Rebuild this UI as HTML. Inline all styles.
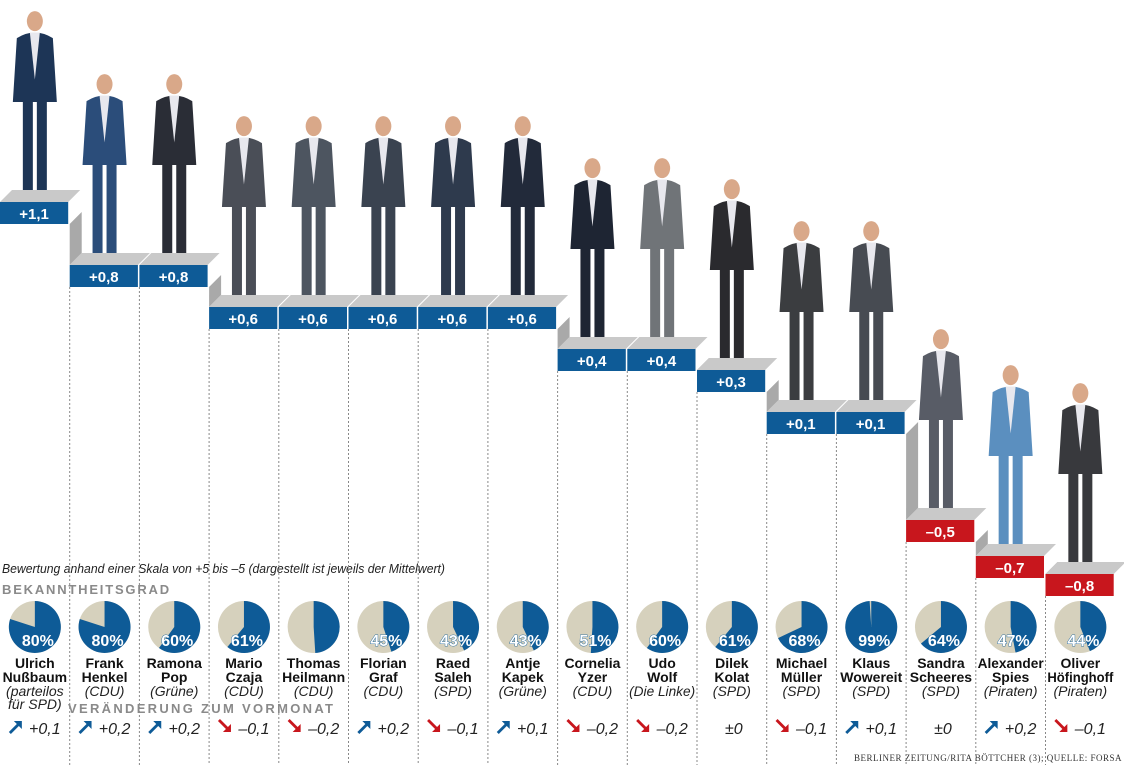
<!DOCTYPE html>
<html><head><meta charset="utf-8">
<style>
body{margin:0;background:#fff;width:1124px;height:765px;overflow:hidden;font-family:"Liberation Sans",sans-serif;}
svg{display:block}
</style></head>
<body>
<svg id="chart" width="1124" height="765" xmlns="http://www.w3.org/2000/svg">
<text x="2" y="573" font-size="12.5" font-style="italic" fill="#222" textLength="443" lengthAdjust="spacingAndGlyphs">Bewertung anhand einer Skala von +5 bis –5 (dargestellt ist jeweils der Mittelwert)</text>
<text x="2" y="594" font-size="13" font-weight="bold" fill="#8a8a8a" letter-spacing="1.8">BEKANNTHEITSGRAD</text>
<text x="68" y="713" font-size="13" font-weight="bold" fill="#8a8a8a" letter-spacing="2.3">VERÄNDERUNG ZUM VORMONAT</text>
<text x="1122" y="761" text-anchor="end" font-size="9" font-family="Liberation Serif, serif" fill="#333" letter-spacing="0.5">BERLINER ZEITUNG/RITA BÖTTCHER (3); QUELLE: FORSA</text>
</svg>
<script>
const names1=["Ulrich","Frank","Ramona","Mario","Thomas","Florian","Raed","Antje","Cornelia","Udo","Dilek","Michael","Klaus","Sandra","Alexander","Oliver"];
const names2=["Nußbaum","Henkel","Pop","Czaja","Heilmann","Graf","Saleh","Kapek","Yzer","Wolf","Kolat","Müller","Wowereit","Scheeres","Spies","Höfinghoff"];
const parties=["(parteilos","(CDU)","(Grüne)","(CDU)","(CDU)","(CDU)","(SPD)","(Grüne)","(CDU)","(Die Linke)","(SPD)","(SPD)","(SPD)","(SPD)","(Piraten)","(Piraten)"];
const ratings=[1.1,0.8,0.8,0.6,0.6,0.6,0.6,0.6,0.4,0.4,0.3,0.1,0.1,-0.5,-0.7,-0.8];
const awareness=[80,80,60,61,49,45,43,43,51,60,61,68,99,64,47,44];
const changes=[0.1,0.2,0.2,-0.1,-0.2,0.2,-0.1,0.1,-0.2,-0.2,0,-0.1,0.1,0,0.2,-0.1];
const suitColors=["#1d3556","#2b4d7a","#2a2d36","#4a4e57","#4d5560","#3a4350","#2e3a4d","#222a3a","#1e2533","#707478","#2a2a2e","#3b3d40","#474b52","#585c66","#5b8fbf","#38393d"];

const svg=document.getElementById('chart');
const NS="http://www.w3.org/2000/svg";
const colW=69.7;
const yScale=v=>v>=0.1?412-(v-0.1)*210:412+(0.1-v)*180;
const xCol=i=>i*colW;
function el(t,a,p){const e=document.createElementNS(NS,t);for(const k in a)e.setAttribute(k,a[k]);(p||svg).appendChild(e);return e;}
const fmt=v=>(v>0?"+":v<0?"–":"±")+Math.abs(v).toFixed(1).replace(".",",");
const fmtC=v=>v===0?"±0":fmt(v);
function fit(t,max){const w=t.getComputedTextLength();if(w>max){t.setAttribute('textLength',max);t.setAttribute('lengthAdjust','spacingAndGlyphs');}}

ratings.forEach((v,i)=>{
  const x=xCol(i), y=yScale(v), w=colW-1.5;
  const blue=v>=0?"#0e5b97":"#c8161d";
  if(i>0){const d=el('line',{x1:x,y1:y+22,x2:x,y2:765,stroke:"#888","stroke-width":1,"stroke-dasharray":"2,2"});
  
  }
  if(i>0){const py=yScale(ratings[i-1]);if(y>py){
    const s=el('polygon',{points:`${x},${py+22} ${x+12},${py+10} ${x+12},${y-12} ${x},${y}`,fill:"#a9a9a9"});
    
    }}
  const cx=x+colW/2, feet=y-6, h=188;
  const g=el('g',{});
  
  
  const c=suitColors[i];
  el('rect',{x:cx-12,y:feet-h*0.52,width:10,height:h*0.5,fill:c},g);
  el('rect',{x:cx+2,y:feet-h*0.52,width:10,height:h*0.5,fill:c},g);
  el('path',{d:`M${cx-22},${feet-h*0.5} L${cx-18},${feet-h*0.84} Q${cx},${feet-h*0.9} ${cx+18},${feet-h*0.84} L${cx+22},${feet-h*0.5} Z`,fill:c},g);
  el('polygon',{points:`${cx-5},${feet-h*0.87} ${cx+5},${feet-h*0.87} ${cx},${feet-h*0.62}`,fill:"#e8e8ee"},g);
  el('ellipse',{cx:cx,cy:feet-h*0.93,rx:8,ry:10,fill:"#d9a889"},g);
  el('rect',{x:cx-14,y:feet-4,width:12,height:5,fill:"#111"},g);
  el('rect',{x:cx+2,y:feet-4,width:12,height:5,fill:"#111"},g);
  const t=el('polygon',{points:`${x},${y} ${x+12},${y-12} ${x+w+12},${y-12} ${x+w},${y}`,fill:"#c9c9c9"});
  
  
  const b=el('rect',{x:x,y:y,width:w,height:22,fill:blue});
  
  
  const lt=el('text',{x:x+w/2,y:y+17,"text-anchor":"middle","font-size":15,"font-weight":"bold",fill:"#fff"});
  lt.textContent=fmt(v);
  
  
});

awareness.forEach((p,i)=>{
  const cx=xCol(i)+colW/2, cy=627, r=26;
  const c=el('circle',{cx:cx,cy:cy,r:r,fill:"#d6d1bd"});
  
  
  const a=p/100*2*Math.PI;
  const ex=cx+r*Math.sin(a), ey=cy-r*Math.cos(a);
  const sl=el('path',{d:`M${cx},${cy} L${cx},${cy-r} A${r},${r} 0 ${p>50?1:0} 1 ${ex},${ey} Z`,fill:"#0e5b97"});
  
  
  const tx=el('text',{x:cx+3,y:cy+19,"text-anchor":"middle","font-size":16,"font-weight":"bold",fill:"#fff",stroke:"#0e5b97","stroke-width":0.8,"paint-order":"stroke"});
  tx.textContent=p===49?"":p+"%";
  
  
  const n1=el('text',{x:cx,y:668,"text-anchor":"middle","font-size":14,"font-weight":"bold",fill:"#111"});
  n1.textContent=names1[i];
  
  
  fit(n1,66);
  const n2=el('text',{x:cx,y:682,"text-anchor":"middle","font-size":14,"font-weight":"bold",fill:"#111"});
  n2.textContent=names2[i];
  
  
  fit(n2,66);
  const pt=el('text',{x:cx,y:696,"text-anchor":"middle","font-size":14,"font-style":"italic",fill:"#222"});
  pt.textContent=parties[i];
  
  
  fit(pt,66);
  if(i===0){const p2=el('text',{x:cx,y:709,"text-anchor":"middle","font-size":14,"font-style":"italic",fill:"#222"});
  p2.textContent="für SPD)";
  
  }
});

changes.forEach((v,i)=>{
  const cx=xCol(i)+colW/2, y=734;
  if(v!==0){
    const up=v>0, col=up?"#0e5b97":"#c8161d";
    const ax=cx-26, ay=up?y-2:y-13;
    const d=up?`M${ax},${ay} L${ax+8},${ay-8} L${ax+5},${ay-11} L${ax+13},${ay-11} L${ax+13},${ay-3} L${ax+10},${ay-6} L${ax+2},${ay+2} Z`
              :`M${ax},${ay} L${ax+8},${ay+8} L${ax+5},${ay+11} L${ax+13},${ay+11} L${ax+13},${ay+3} L${ax+10},${ay+6} L${ax+2},${ay-2} Z`;
    const ar=el('path',{d:d,fill:col});
    
    
  }
  const t=el('text',{x:v===0?cx+2:cx+10,y:y,"text-anchor":"middle","font-size":16,"font-style":"italic",fill:"#222"});
  t.textContent=fmtC(v);
  
  
});
</script>
</body></html>
